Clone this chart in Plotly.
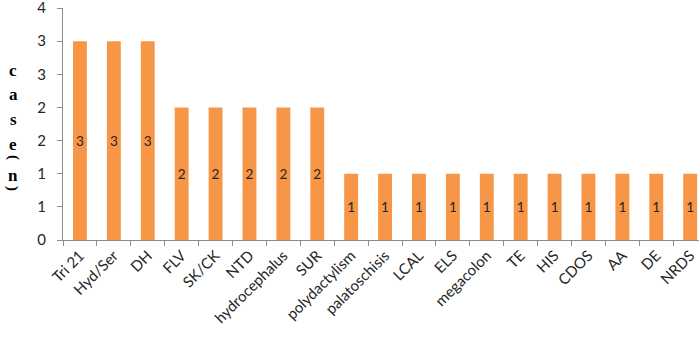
import plotly.graph_objects as go

categories = ["Tri 21", "Hyd/Ser", "DH", "FLV", "SK/CK", "NTD", "hydrocephalus", "SUR",
              "polydactylism", "palatoschisis", "LCAL", "ELS", "megacolon", "TE", "HIS",
              "CDOS", "AA", "DE", "NRDS"]
cases = [3, 3, 3, 2, 2, 2, 2, 2, 1, 1, 1, 1, 1, 1, 1, 1, 1, 1, 1]
y_tickvals = [0, 0.5, 1, 1.5, 2, 2.5, 3, 3.5]
y_ticktext = ["0", "1", "1", "2", "2", "3", "3", "4"]
# y-axis title glyphs, stacked vertically (char, rotation)
title_glyphs = [("c", 0), ("a", 0), ("s", 0), ("e", 0), ("(", 90), ("n", 0), (")", 90)]

font_family = "Lato, Carlito, 'Open Sans', sans-serif"

W, H = 699, 345
L, T, B = 63, 8, 105
plot_h = H - T - B

fig = go.Figure(go.Bar(
    x=categories, y=cases,
    marker=dict(color="#F79646", line=dict(width=0)),
    width=0.41,
    text=[str(v) for v in cases],
    textposition="inside", insidetextanchor="middle",
    textfont=dict(family=font_family, size=15, color="#262626"),
    textangle=0,
    cliponaxis=False,
))

# pixel centres of the stacked title glyphs
glyph_px = [72, 96, 122, 146, 157, 177, 188]
annotations = []
for (ch, ang), ypx in zip(title_glyphs, glyph_px):
    rot = ang != 0
    annotations.append(dict(
        text=f"<b>{ch}</b>", textangle=ang,
        xref="paper", yref="paper",
        x=(13 - L) / (W - L), y=(H - B - (ypx - (0 if rot else 2))) / plot_h,
        xanchor="center", yanchor="middle", showarrow=False,
        font=dict(family="Liberation Serif, DejaVu Serif, serif",
                  size=15 if rot else 17, color="#000000"),
    ))

fig.update_layout(
    width=W, height=H,
    margin=dict(l=L, r=0, t=T, b=B, pad=0),
    paper_bgcolor="white", plot_bgcolor="white",
    showlegend=False,
    font=dict(family=font_family, size=14, color="#262626"),
    xaxis=dict(
        range=[-0.5, 18.26], tickangle=-45, automargin=False,
        showline=True, linecolor="#8C8C8C", linewidth=1,
        ticks="outside", ticklen=5, tickcolor="#8C8C8C", tickson="boundaries",
        showgrid=False, ticklabeloverflow="allow",
        tickfont=dict(family=font_family, size=15, color="#262626"),
    ),
    yaxis=dict(
        range=[0, 3.5], tickvals=y_tickvals, ticktext=y_ticktext, automargin=False,
        showline=True, linecolor="#8C8C8C", linewidth=1,
        ticks="outside", ticklen=5, tickcolor="#8C8C8C",
        showgrid=False, zeroline=False, ticklabeloverflow="allow",
        ticklabelstandoff=8,
        tickfont=dict(family=font_family, size=15, color="#262626"),
    ),
    annotations=annotations,
)

fig.write_html("out.html", config={"displayModeBar": False},
               post_script="document.body.style.margin='0';")
